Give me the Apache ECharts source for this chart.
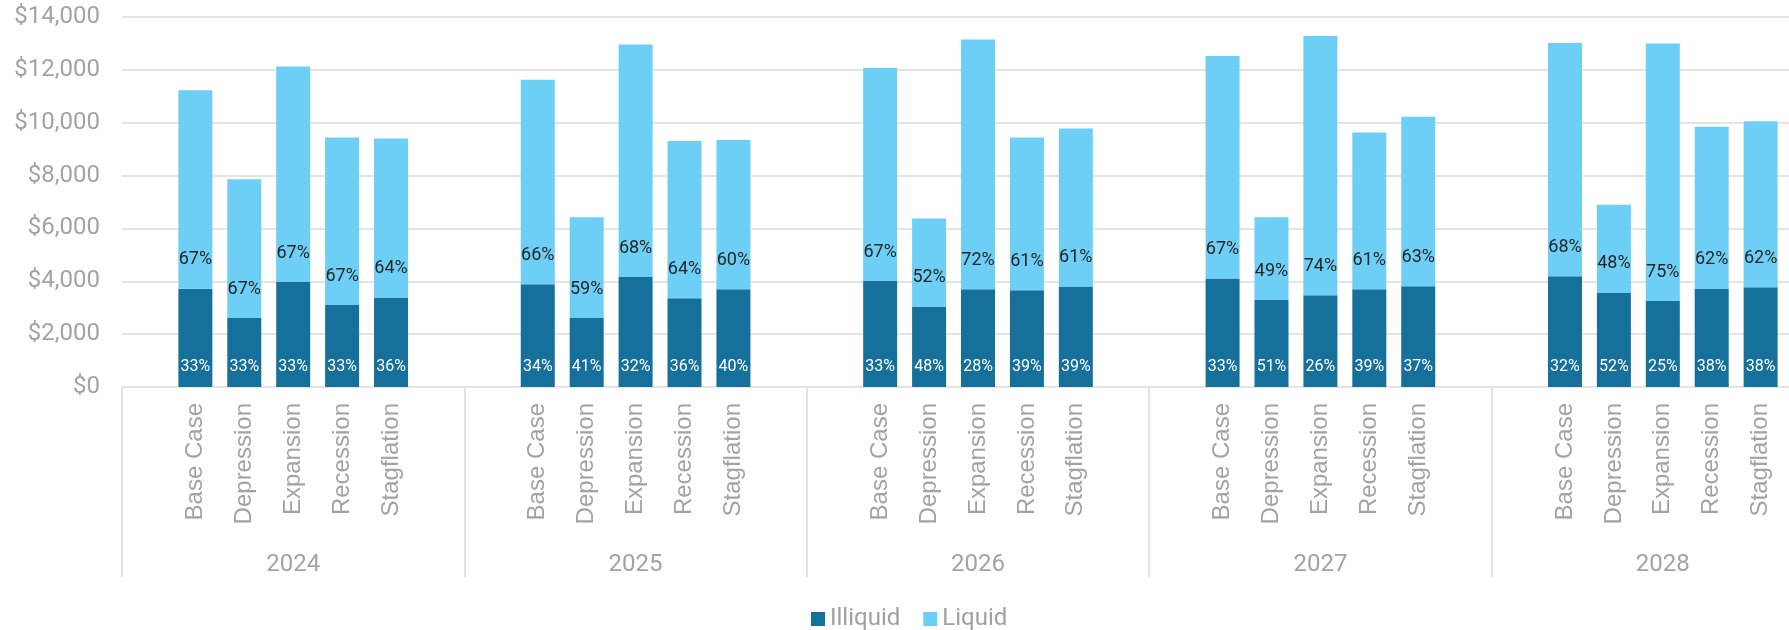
<!DOCTYPE html>
<html>
<head>
<meta charset="utf-8">
<script src="https://cdn.jsdelivr.net/npm/echarts@6/dist/echarts.min.js"></script>
<style>html,body{margin:0;padding:0;background:#fff}#chart{width:1789px;height:630px}</style>
</head>
<body>
<div id="chart"></div>
<script>
const years = ['2024', '2025', '2026', '2027', '2028'];
const scenarios = ['Base Case', 'Depression', 'Expansion', 'Recession', 'Stagflation'];
const illiquid2024 = [3720, 2610, 3970, 3100, 3370];
const illiquid2025 = [3890, 2610, 4160, 3360, 3700];
const illiquid2026 = [4010, 3030, 3700, 3660, 3800];
const illiquid2027 = [4110, 3290, 3470, 3700, 3810];
const illiquid2028 = [4190, 3580, 3250, 3710, 3770];
const liquid2024 = [7510, 5250, 8160, 6340, 6030];
const liquid2025 = [7740, 3810, 8800, 5950, 5650];
const liquid2026 = [8060, 3350, 9450, 5780, 5980];
const liquid2027 = [8410, 3130, 9810, 5930, 6420];
const liquid2028 = [8830, 3320, 9750, 6140, 6290];
const illiquidPct2024 = ['33%', '33%', '33%', '33%', '36%'];
const illiquidPct2025 = ['34%', '41%', '32%', '36%', '40%'];
const illiquidPct2026 = ['33%', '48%', '28%', '39%', '39%'];
const illiquidPct2027 = ['33%', '51%', '26%', '39%', '37%'];
const illiquidPct2028 = ['32%', '52%', '25%', '38%', '38%'];
const liquidPct2024 = ['67%', '67%', '67%', '67%', '64%'];
const liquidPct2025 = ['66%', '59%', '68%', '64%', '60%'];
const liquidPct2026 = ['67%', '52%', '72%', '61%', '61%'];
const liquidPct2027 = ['67%', '49%', '74%', '61%', '63%'];
const liquidPct2028 = ['68%', '48%', '75%', '62%', '62%'];
const yTicks = [0, 2000, 4000, 6000, 8000, 10000, 12000, 14000];

const illiquidByYear = [illiquid2024, illiquid2025, illiquid2026, illiquid2027, illiquid2028];
const liquidByYear = [liquid2024, liquid2025, liquid2026, liquid2027, liquid2028];
const illPctByYear = [illiquidPct2024, illiquidPct2025, illiquidPct2026, illiquidPct2027, illiquidPct2028];
const liqPctByYear = [liquidPct2024, liquidPct2025, liquidPct2026, liquidPct2027, liquidPct2028];

// 7 slots per year: empty, 5 scenarios, empty
const cats = [], illData = [], liqData = [], illLbl = [], liqLbl = [];
years.forEach((y, g) => {
  cats.push(''); illData.push('-'); liqData.push('-'); illLbl.push(''); liqLbl.push('');
  scenarios.forEach((s, i) => {
    cats.push(s);
    illData.push(illiquidByYear[g][i]);
    liqData.push(liquidByYear[g][i]);
    illLbl.push(illPctByYear[g][i]);
    liqLbl.push(liqPctByYear[g][i]);
  });
  cats.push(''); illData.push('-'); liqData.push('-'); illLbl.push(''); liqLbl.push('');
});

const grey = '#a3a3a3';
const lineGrey = '#e4e4e4';

const chart = echarts.init(document.getElementById('chart'), null, {renderer: 'canvas'});
chart.setOption({
  animation: false,
  grid: {left: 122, width: 1712, top: 17, bottom: 243, containLabel: false, outerBoundsMode: 'none'},
  legend: {
    top: 602, left: 806,
    icon: 'rect', itemWidth: 14, itemHeight: 14, itemGap: 23,
    textStyle: {color: '#a0a0a0', fontSize: 24, fontFamily: 'Roboto, sans-serif'},
    data: ['Illiquid', 'Liquid']
  },
  xAxis: [
    {
      type: 'category', data: cats, gridIndex: 0,
      axisLine: {show: true, lineStyle: {color: lineGrey, width: 2}},
      axisTick: {show: false},
      axisLabel: {interval: 0, rotate: 90, margin: 16, color: grey, fontSize: 24,
                  fontFamily: '"Liberation Sans", Arial, sans-serif'}
    },
    {
      type: 'category', data: years, gridIndex: 0, position: 'bottom',
      axisLine: {show: false},
      axisTick: {show: true, interval: 0, length: 190, lineStyle: {color: lineGrey, width: 2}},
      axisLabel: {interval: 0, margin: 166, color: grey, fontSize: 24, fontFamily: 'Roboto, sans-serif'},
      splitLine: {show: false}
    }
  ],
  yAxis: {
    type: 'value', min: yTicks[0], max: yTicks[yTicks.length - 1], interval: 2000,
    axisLine: {show: false}, axisTick: {show: false},
    splitLine: {lineStyle: {color: lineGrey, width: 2}},
    axisLabel: {margin: 22, color: grey, fontSize: 24, fontFamily: 'Roboto, sans-serif',
                formatter: v => '$' + v.toLocaleString('en-US')}
  },
  series: [
    {
      name: 'Illiquid', type: 'bar', stack: 'total', xAxisIndex: 0, barWidth: 34,
      data: illData,
      itemStyle: {color: '#16709c'},
      label: {show: true, position: 'insideBottom', distance: 12, color: '#ffffff',
              fontSize: 16, fontFamily: 'Roboto, sans-serif',
              formatter: p => illLbl[p.dataIndex]}
    },
    {
      name: 'Liquid', type: 'bar', stack: 'total', xAxisIndex: 0, barWidth: 34,
      data: liqData,
      itemStyle: {color: '#6dcff6'},
      label: {show: true, position: 'insideBottom', distance: 20, color: '#262626',
              fontSize: 18, fontFamily: 'Roboto, sans-serif',
              formatter: p => liqLbl[p.dataIndex]}
    }
  ]
});
</script>
</body>
</html>
